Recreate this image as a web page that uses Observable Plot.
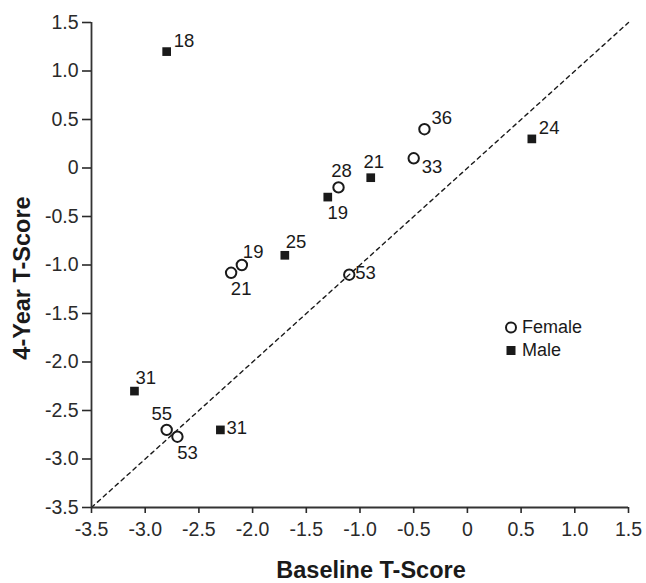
<!DOCTYPE html>
<html><head><meta charset="utf-8">
<script src="https://cdn.jsdelivr.net/npm/d3@7"></script>
<script src="https://cdn.jsdelivr.net/npm/@observablehq/plot@0.6"></script>
<style>
body{margin:0;background:#fff;}
#wrap{position:relative;width:646px;height:583px;font-family:"Liberation Sans",Arial,sans-serif;}
.legend{position:absolute;left:503px;top:316px;font-size:18px;color:#1a1a1a;}
.legend .row{display:flex;align-items:center;height:23px;}
.legend svg{width:16px;height:23px;margin-right:3px;}
</style></head><body><div id="wrap"></div>
<script>
// ---- data ----
const sex      = ["Male","Male","Male","Male","Male","Male","Male",
                  "Female","Female","Female","Female","Female","Female","Female","Female"];
const baseline = [-2.8, 0.6, -0.9, -1.3, -1.7, -3.1, -2.3,
                  -0.4, -0.5, -1.2, -2.1, -2.2, -1.1, -2.8, -2.7];
const fourYear = [1.2, 0.3, -0.1, -0.3, -0.9, -2.3, -2.7,
                  0.4, 0.1, -0.2, -1.0, -1.08, -1.1, -2.7, -2.77];
const ages     = [18, 24, 21, 19, 25, 31, 31,
                  36, 33, 28, 19, 21, 53, 55, 53];
const xTicks = [-3.5, -3.0, -2.5, -2.0, -1.5, -1.0, -0.5, 0, 0.5, 1.0, 1.5];
const yTicks = [-3.5, -3.0, -2.5, -2.0, -1.5, -1.0, -0.5, 0, 0.5, 1.0, 1.5];
const identityLine = [-3.5, 1.5];
const legendItems = ["Female", "Male"];

// ---- layout (label placement codes, style only) ----
const labelPlacement = ["ne","ne","n","s","nne","nne","e",
                        "ne","se","n","nne","s","e","nw","s"];
const placements = {
  ne:  {textAnchor:"start",  dx: 7,  dy:-11},
  nne: {textAnchor:"start",  dx: 1,  dy:-13},
  n:   {textAnchor:"middle", dx: 3,  dy:-16},
  s:   {textAnchor:"middle", dx: 10, dy: 16},
  e:   {textAnchor:"start",  dx: 6,  dy:-2},
  se:  {textAnchor:"start",  dx: 8,  dy: 9},
  nw:  {textAnchor:"middle", dx:-5,  dy:-16}
};

const rows = sex.map((s,i)=>({sex:s, x:baseline[i], y:fourYear[i], age:ages[i], pos:labelPlacement[i]}));
const ink = "#1a1a1a";
const fmt = d => d === 0 ? "0" : d.toFixed(1);

const labelMarks = Object.entries(placements).map(([code,opt]) =>
  Plot.text(rows.filter(r=>r.pos===code), {x:"x", y:"y", text:d=>String(d.age), fill:ink, fontSize:18.5, lineAnchor:"middle", ...opt})
);

const chart = Plot.plot({
  width:646, height:583,
  marginLeft:91, marginRight:18, marginTop:22, marginBottom:76,
  style:{fontFamily:'"Liberation Sans", Arial, sans-serif', fontSize:"19.5px", color:"#2a2a2a", background:"#fff"},
  x:{domain:[-3.5,1.5]},
  y:{domain:[-3.5,1.5]},
  marks:[
    Plot.line(identityLine, {x:d=>d, y:d=>d, stroke:ink, strokeWidth:1.4, strokeDasharray:"4,4"}),
    Plot.ruleX([xTicks[0]], {stroke:"#333", strokeWidth:1.8}),
    Plot.ruleY([yTicks[0]], {stroke:"#333", strokeWidth:1.8}),
    Plot.axisX({ticks:xTicks, tickFormat:fmt, tickSize:6, tickPadding:9, strokeWidth:1.6, fontSize:19.5, label:null}),
    Plot.axisY({ticks:yTicks, tickFormat:fmt, tickSize:9, tickPadding:4, strokeWidth:1.6, fontSize:19.5, label:null}),
    Plot.dot(rows.filter(r=>r.sex==="Female"), {x:"x", y:"y", symbol:"circle", r:5.2, stroke:ink, strokeWidth:2, fill:"none"}),
    Plot.dot(rows.filter(r=>r.sex==="Male"), {x:"x", y:"y", symbol:"square", r:4.9, fill:ink, stroke:"none"}),
    ...labelMarks,
    Plot.text(["Baseline T-Score"], {text:d=>d, frameAnchor:"bottom", textAnchor:"middle", lineAnchor:"middle", dx:11, dy:63, fontWeight:"bold", fontSize:23.5, fill:ink}),
    Plot.text(["4-Year T-Score"], {text:d=>d, frameAnchor:"left", textAnchor:"middle", lineAnchor:"middle", rotate:-90, dx:-69, dy:13, fontWeight:"bold", fontSize:23.5, fill:ink})
  ]
});
const wrap = document.getElementById("wrap");
wrap.appendChild(chart);

// legend
const leg = document.createElement("div");
leg.className = "legend";
legendItems.forEach(name => {
  const row = document.createElement("div");
  row.className = "row";
  const sym = name === "Female"
    ? `<svg viewBox="0 0 16 23"><circle cx="8" cy="11.5" r="5" fill="none" stroke="${ink}" stroke-width="2"/></svg>`
    : `<svg viewBox="0 0 16 23"><rect x="3.5" y="7" width="9" height="9" fill="${ink}"/></svg>`;
  row.innerHTML = sym + `<span>${name}</span>`;
  leg.appendChild(row);
});
wrap.appendChild(leg);
</script></body></html>
